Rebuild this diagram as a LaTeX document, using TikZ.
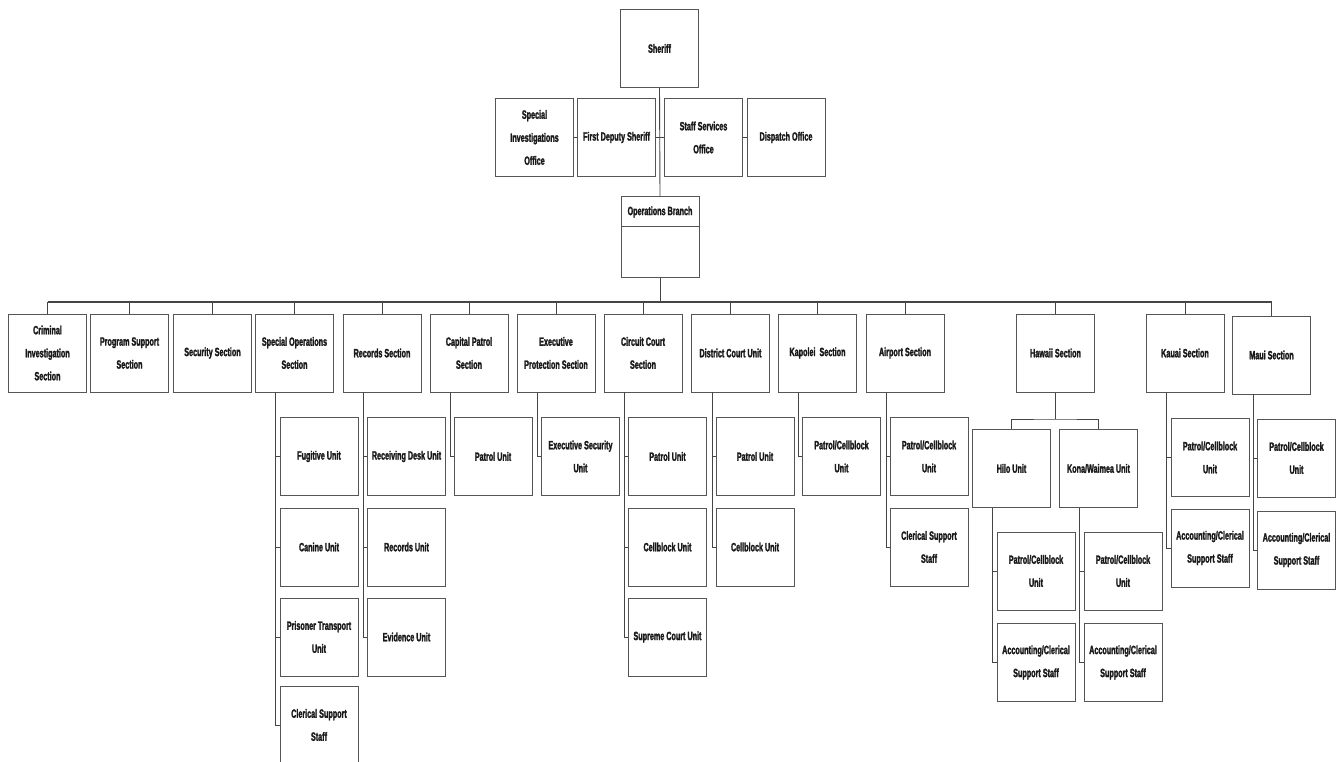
\documentclass[tikz,border=0pt]{standalone}
\usepackage{fontspec}
\setmainfont{Liberation Sans}[FakeStretch=0.6]
\newfontfamily\chartfont{Liberation Sans Bold}[FakeStretch=0.6, FakeBold=1.8]
\definecolor{boxgray}{HTML}{555555}
\definecolor{linegray}{HTML}{454545}
\begin{document}
\begin{tikzpicture}[x=1pt,y=-1pt,
  box/.style={draw=boxgray, line width=1pt, fill=white, minimum width=78pt, minimum height=78pt,
    inner sep=1pt, align=center, text=black!90, font=\chartfont\fontsize{12}{23}\selectfont},
  hdr/.style={box, minimum height=30pt},
  conn/.style={draw=linegray, line width=0.9pt},
  busline/.style={draw=linegray, line width=2pt}]
\useasboundingbox[fill=white] (0,0) rectangle (1336,762);

% top
\node[box] (sheriff) at (659.5,48.5) {Sheriff};
\node[box] (sio) at (534.5,137.5) {Special\\Investigations\\Office};
\node[box] (fds) at (616.5,137.5) {First Deputy Sheriff};
\node[box] (sso) at (703.5,137.5) {Staff Services\\Office};
\node[box] (dso) at (786,137.5) {Dispatch Office};
\node[hdr] (opsH) at (660,212) {Operations Branch};
\node[box, minimum height=50pt] (opsB) at (660,252) {};
\coordinate (mid) at (660,137.5);
\draw[conn] (sheriff.south) -- (opsH.north);
\draw[conn] (fds.east) -- (mid) -- (sso.west);
\draw[conn] (sio.east) -- (fds.west);
\draw[conn] (sso.east) -- (dso.west);

% bus
\coordinate (barL) at (47.5,302);
\coordinate (barR) at (1271.5,302);
\coordinate (barM) at (660,302);
\draw[conn] (opsB.south) -- (barM);
\draw[busline] (barL) -- (barR);

% sections
\node[box] (crim) at (47.5,353) {Criminal\\Investigation\\Section};
\node[box] (prog) at (129.5,353) {Program Support\\Section};
\node[box] (secu) at (212.5,353) {Security Section};
\node[box] (spec) at (294.5,353) {Special Operations\\Section};
\node[box] (reco) at (382,353) {Records Section};
\node[box] (capi) at (469,353) {Capital Patrol\\Section};
\node[box] (exec) at (556,353) {Executive\\Protection Section};
\node[box] (circ) at (643,353) {Circuit Court\\Section};
\node[box] (dist) at (730.5,353) {District Court Unit};
\node[box] (kapo) at (817.5,353) {Kapolei\ \ Section};
\node[box] (airp) at (905,353) {Airport Section};
\node[box] (hawa) at (1055.5,353) {Hawaii Section};
\node[box] (kaua) at (1185,353) {Kauai Section};
\node[box] (maui) at (1271.5,355) {Maui Section};
\foreach \s in {crim,prog,secu,spec,reco,capi,exec,circ,dist,kapo,airp,hawa,kaua,maui}
  \draw[conn] (\s.north) -- (\s.north |- barL);

% Special Operations
\node[box] (so1) at (319,456.5) {Fugitive Unit};
\node[box] (so2) at (319,547) {Canine Unit};
\node[box] (so3) at (319,637) {Prisoner Transport\\Unit};
\node[box] (so4) at (319,725) {Clerical Support\\Staff};
\coordinate (soL) at (275,392);
\draw[conn] (soL) |- (so4.west);
\foreach \c in {so1,so2,so3} \draw[conn] (\c.west) -- (\c.west -| soL);

% Records
\node[box] (re1) at (406.5,456.5) {Receiving Desk Unit};
\node[box] (re2) at (406.5,547) {Records Unit};
\node[box] (re3) at (406.5,637) {Evidence Unit};
\coordinate (reL) at (363,392);
\draw[conn] (reL) |- (re3.west);
\foreach \c in {re1,re2} \draw[conn] (\c.west) -- (\c.west -| reL);

% Capital Patrol
\node[box] (cp1) at (493,456.5) {Patrol Unit};
\coordinate (cpL) at (450,392);
\draw[conn] (cpL) |- (cp1.west);

% Executive Protection
\node[box] (ep1) at (580.5,456.5) {Executive Security\\Unit};
\coordinate (epL) at (537,392);
\draw[conn] (epL) |- (ep1.west);

% Circuit Court
\node[box] (cc1) at (667.5,456.5) {Patrol Unit};
\node[box] (cc2) at (667.5,547) {Cellblock Unit};
\node[box] (cc3) at (667.5,637) {Supreme Court Unit};
\coordinate (ccL) at (624,392);
\draw[conn] (ccL) |- (cc3.west);
\foreach \c in {cc1,cc2} \draw[conn] (\c.west) -- (\c.west -| ccL);

% District Court
\node[box] (dc1) at (755,456.5) {Patrol Unit};
\node[box] (dc2) at (755,547) {Cellblock Unit};
\coordinate (dcL) at (712,392);
\draw[conn] (dcL) |- (dc2.west);
\draw[conn] (dc1.west) -- (dc1.west -| dcL);

% Kapolei
\node[box] (kp1) at (841.5,456.5) {Patrol/Cellblock\\Unit};
\coordinate (kpL) at (798,392);
\draw[conn] (kpL) |- (kp1.west);

% Airport
\node[box] (ap1) at (929,456.5) {Patrol/Cellblock\\Unit};
\node[box] (ap2) at (929,547) {Clerical Support\\Staff};
\coordinate (apL) at (886,392);
\draw[conn] (apL) |- (ap2.west);
\draw[conn] (ap1.west) -- (ap1.west -| apL);

% Hawaii
\node[box] (hilo) at (1011.5,468.5) {Hilo Unit};
\node[box] (kona) at (1098.5,468.5) {Kona/Waimea Unit};
\coordinate (hwJ) at (1055.5,419);
\draw[conn] (hawa.south) -- (hwJ);
\draw[conn] (hilo.north) |- (hwJ) -| (kona.north);
\node[box] (hi1) at (1036,571) {Patrol/Cellblock\\Unit};
\node[box] (hi2) at (1036,662.5) {Accounting/Clerical\\Support Staff};
\coordinate (hiL) at (992,507.5);
\draw[conn] (hiL) |- (hi2.west);
\draw[conn] (hi1.west) -- (hi1.west -| hiL);
\node[box] (ko1) at (1123,571) {Patrol/Cellblock\\Unit};
\node[box] (ko2) at (1123,662.5) {Accounting/Clerical\\Support Staff};
\coordinate (koL) at (1079,507.5);
\draw[conn] (koL) |- (ko2.west);
\draw[conn] (ko1.west) -- (ko1.west -| koL);

% Kauai
\node[box] (ka1) at (1210,457.5) {Patrol/Cellblock\\Unit};
\node[box] (ka2) at (1210,548) {Accounting/Clerical\\Support Staff};
\coordinate (kaL) at (1166,392);
\draw[conn] (kaL) |- (ka2.west);
\draw[conn] (ka1.west) -- (ka1.west -| kaL);

% Maui
\node[box] (ma1) at (1296.5,458) {Patrol/Cellblock\\Unit};
\node[box] (ma2) at (1296.5,550) {Accounting/Clerical\\Support Staff};
\coordinate (maL) at (1253,394);
\draw[conn] (maL) |- (ma2.west);
\draw[conn] (ma1.west) -- (ma1.west -| maL);
\end{tikzpicture}
\end{document}
